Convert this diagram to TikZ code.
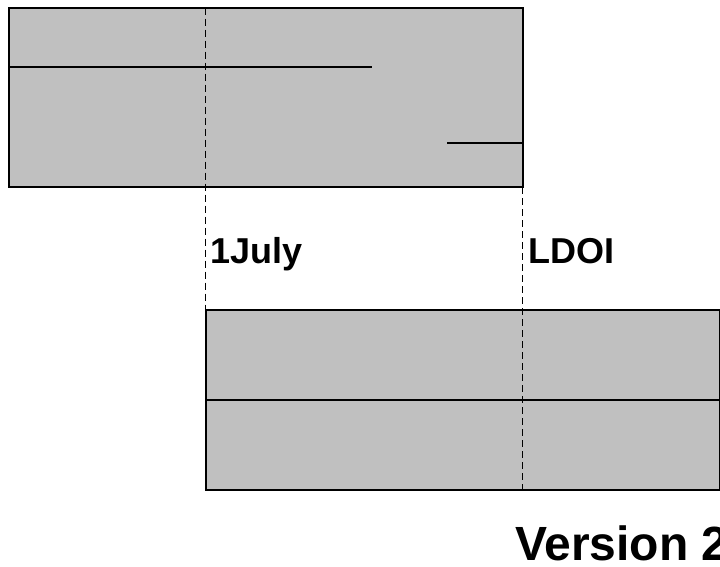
\documentclass[tikz,border=0pt]{standalone}
\usepackage{fontspec}
\setmainfont{Liberation Sans}
\begin{document}
\begin{tikzpicture}[x=1pt,y=-1pt,
  bar/.style={fill={rgb,255:red,192;green,192;blue,192}, draw=black, line width=2pt},
  rule/.style={draw=black, line width=2pt},
  marker/.style={draw=black, line width=1.8pt, dash pattern=on 7pt off 4pt},
  lbl/.style={font=\bfseries\fontsize{36}{40}\selectfont, anchor=base west, inner sep=0pt},
  ttl/.style={font=\bfseries\fontsize{48}{52}\selectfont, anchor=base west, inner sep=0pt}]
  \clip (0,0) rectangle (720,566);
  \useasboundingbox (0,0) rectangle (720,566);
  % upper bar
  \draw[bar] (8.5,7.5) rectangle (522.5,187);
  \coordinate (a1) at (8.5,67);   \coordinate (a2) at (372,67);
  \coordinate (b1) at (447,143);  \coordinate (b2) at (522.5,143);
  \draw[rule] (a1) -- (a2);
  \draw[rule] (b1) -- (b2);
  % lower bar
  \draw[bar] (205.5,310) rectangle (720,490);
  \coordinate (c1) at (205.5,400); \coordinate (c2) at (720,400);
  \draw[rule] (c1) -- (c2);
  % date markers
  \coordinate (d1) at (205.5,7.5); \coordinate (d2) at (205.5,310);
  \coordinate (e1) at (522.5,187); \coordinate (e2) at (522.5,490);
  \draw[marker] (d1) -- (d2);
  \draw[marker] (e1) -- (e2);
  % labels
  \node[lbl] (july) at (210,263) {1July};
  \node[lbl] (ldoi) at (528,263) {LDOI};
  \node[ttl] (ver) at (515,560) {Version 2};
\end{tikzpicture}
\end{document}
